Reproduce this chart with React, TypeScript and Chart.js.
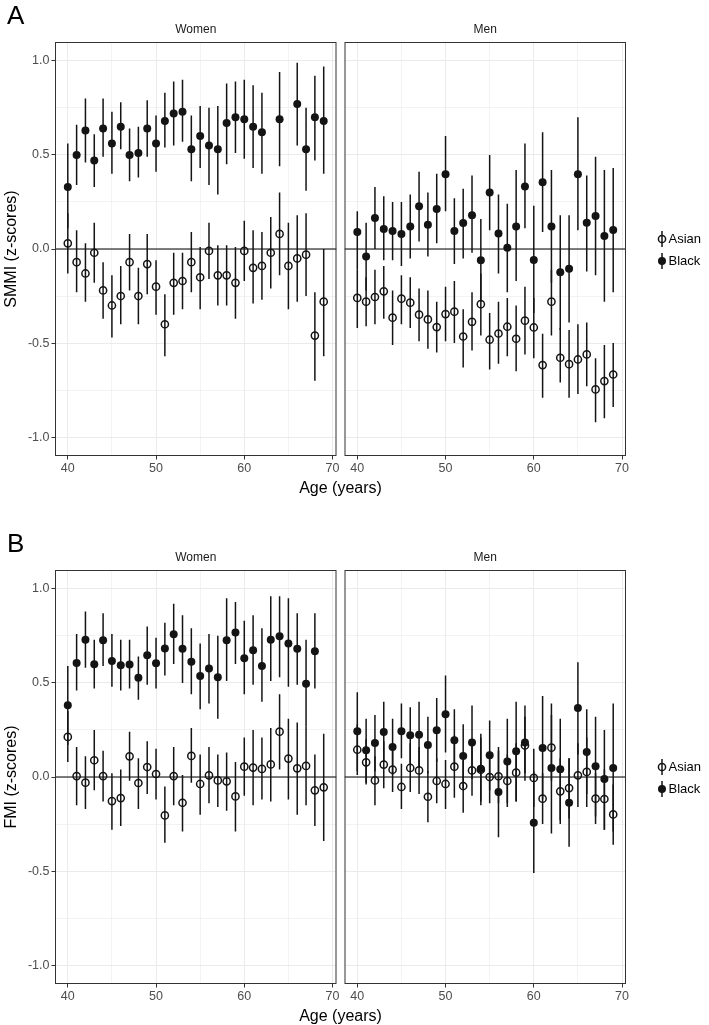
import React, { useEffect, useRef } from "react";
import { Chart, registerables } from "chart.js";

Chart.register(...registerables);

const FONT = "'Liberation Sans', Arial, Helvetica, sans-serif";
Chart.defaults.font.family = FONT;

// ---------------- data ----------------
const ages = [40, 41, 42, 43, 44, 45, 46, 47, 48, 49, 50, 51, 52, 53, 54, 55, 56, 57, 58, 59, 60, 61, 62, 63, 64, 65, 66, 67, 68, 69];
const xTicks = [40, 45, 50, 55, 60, 65, 70];
const xTickLabels = ["40", "", "50", "", "60", "", "70"];
const yTicks = [-1, -0.75, -0.5, -0.25, 0, 0.25, 0.5, 0.75, 1];
const yTickLabels = ["-1.0", "", "-0.5", "", "0.0", "", "0.5", "", "1.0"];
const groups = ["Asian", "Black"];
const facets = ["Women", "Men"];
const panelTags = ["A", "B"];
const yTitles = ["SMMI (z-scores)", "FMI (z-scores)"];
const xTitle = "Age (years)";

// Panel A: SMMI
const smmiWomenAsian = [0.03, -0.07, -0.13, -0.02, -0.22, -0.3, -0.25, -0.07, -0.25, -0.08, -0.2, -0.4, -0.18, -0.17, -0.07, -0.15, -0.01, -0.14, -0.14, -0.18, -0.01, -0.1, -0.09, -0.02, 0.08, -0.09, -0.05, -0.03, -0.46, -0.28];
const smmiWomenAsianLo = [-0.13, -0.23, -0.28, -0.18, -0.37, -0.47, -0.4, -0.22, -0.4, -0.24, -0.35, -0.57, -0.35, -0.32, -0.23, -0.32, -0.16, -0.3, -0.3, -0.37, -0.17, -0.29, -0.27, -0.21, -0.14, -0.32, -0.28, -0.25, -0.7, -0.57];
const smmiWomenAsianHi = [0.19, 0.1, 0.03, 0.14, -0.07, -0.14, -0.09, 0.08, -0.1, 0.08, -0.06, -0.24, -0.02, -0.02, 0.09, 0.01, 0.14, 0.02, 0.02, 0.01, 0.15, 0.1, 0.09, 0.17, 0.3, 0.14, 0.18, 0.19, -0.23, 0.0];
const smmiWomenBlack = [0.33, 0.5, 0.63, 0.47, 0.64, 0.56, 0.65, 0.5, 0.51, 0.64, 0.56, 0.68, 0.72, 0.73, 0.53, 0.6, 0.55, 0.53, 0.67, 0.7, 0.69, 0.65, 0.62, null, 0.69, null, 0.77, 0.53, 0.7, 0.68];
const smmiWomenBlackLo = [0.11, 0.34, 0.46, 0.33, 0.49, 0.4, 0.53, 0.36, 0.38, 0.49, 0.41, 0.54, 0.55, 0.57, 0.36, 0.43, 0.34, 0.29, 0.45, 0.51, 0.48, 0.43, 0.4, null, 0.44, null, 0.55, 0.31, 0.47, 0.4];
const smmiWomenBlackHi = [0.56, 0.66, 0.8, 0.61, 0.8, 0.73, 0.78, 0.64, 0.65, 0.79, 0.71, 0.83, 0.89, 0.9, 0.71, 0.76, 0.75, 0.76, 0.88, 0.89, 0.9, 0.87, 0.83, null, 0.94, null, 0.99, 0.75, 0.92, 0.97];
const smmiMenAsian = [-0.26, -0.28, -0.255, -0.225, -0.365, -0.264, -0.285, -0.349, -0.374, -0.415, -0.346, -0.333, -0.465, -0.387, -0.293, -0.482, -0.449, -0.413, -0.477, -0.381, -0.417, -0.617, -0.28, -0.578, -0.612, -0.587, -0.56, -0.746, -0.702, -0.667];
const smmiMenAsianLo = [-0.42, -0.41, -0.4, -0.37, -0.51, -0.4, -0.42, -0.49, -0.53, -0.55, -0.49, -0.5, -0.63, -0.54, -0.46, -0.64, -0.61, -0.57, -0.65, -0.56, -0.58, -0.79, -0.46, -0.71, -0.79, -0.77, -0.73, -0.92, -0.9, -0.84];
const smmiMenAsianHi = [-0.11, -0.15, -0.11, -0.09, -0.22, -0.14, -0.15, -0.21, -0.22, -0.28, -0.2, -0.17, -0.32, -0.23, -0.13, -0.34, -0.28, -0.26, -0.3, -0.2, -0.26, -0.45, -0.11, -0.42, -0.43, -0.4, -0.39, -0.58, -0.51, -0.5];
const smmiMenBlack = [0.09, -0.04, 0.165, 0.106, 0.096, 0.08, 0.119, 0.227, 0.129, 0.213, 0.397, 0.096, 0.138, 0.179, -0.06, 0.3, 0.082, 0.007, 0.119, 0.332, -0.059, 0.355, 0.119, -0.124, -0.105, 0.397, 0.14, 0.176, 0.069, 0.101];
const smmiMenBlackLo = [-0.11, -0.22, 0.0, -0.06, -0.06, -0.09, -0.05, 0.04, -0.04, 0.03, 0.2, -0.08, -0.05, -0.02, -0.28, 0.1, -0.13, -0.23, -0.17, 0.11, -0.34, 0.09, -0.18, -0.43, -0.39, 0.1, -0.12, -0.14, -0.28, -0.23];
const smmiMenBlackHi = [0.2, 0.14, 0.33, 0.28, 0.25, 0.25, 0.29, 0.41, 0.3, 0.4, 0.6, 0.27, 0.32, 0.39, 0.16, 0.5, 0.29, 0.24, 0.42, 0.56, 0.23, 0.62, 0.42, 0.18, 0.18, 0.7, 0.39, 0.49, 0.42, 0.43];

// Panel B: FMI
const fmiWomenAsian = [0.213, 0.005, -0.03, 0.089, 0.005, -0.128, -0.112, 0.11, -0.032, 0.053, 0.016, -0.204, 0.005, -0.137, 0.112, -0.037, 0.009, -0.018, -0.023, -0.103, 0.055, 0.05, 0.043, 0.067, 0.241, 0.098, 0.046, 0.059, -0.071, -0.055];
const fmiWomenAsianLo = [0.08, -0.15, -0.17, -0.07, -0.13, -0.28, -0.26, -0.02, -0.17, -0.09, -0.12, -0.35, -0.15, -0.29, -0.03, -0.2, -0.14, -0.16, -0.18, -0.29, -0.1, -0.15, -0.12, -0.13, 0.04, -0.12, -0.2, -0.15, -0.26, -0.34];
const fmiWomenAsianHi = [0.35, 0.16, 0.11, 0.25, 0.14, 0.02, 0.04, 0.24, 0.1, 0.19, 0.15, -0.05, 0.16, 0.01, 0.26, 0.12, 0.16, 0.12, 0.13, 0.08, 0.21, 0.25, 0.21, 0.26, 0.44, 0.31, 0.29, 0.27, 0.12, 0.23];
const fmiWomenBlack = [0.381, 0.606, 0.73, 0.599, 0.727, 0.617, 0.594, 0.598, 0.527, 0.647, 0.605, 0.683, 0.759, 0.681, 0.613, 0.537, 0.576, 0.53, 0.727, 0.768, 0.631, 0.674, 0.59, 0.73, 0.748, 0.709, 0.681, 0.496, 0.668, null];
const fmiWomenBlackLo = [0.17, 0.46, 0.58, 0.47, 0.59, 0.48, 0.46, 0.47, 0.41, 0.49, 0.47, 0.54, 0.6, 0.5, 0.44, 0.36, 0.39, 0.31, 0.51, 0.6, 0.44, 0.49, 0.4, 0.51, 0.53, 0.48, 0.49, 0.27, 0.47, null];
const fmiWomenBlackHi = [0.59, 0.76, 0.88, 0.73, 0.87, 0.76, 0.73, 0.73, 0.64, 0.8, 0.74, 0.82, 0.92, 0.86, 0.79, 0.71, 0.76, 0.75, 0.95, 0.93, 0.83, 0.86, 0.79, 0.96, 0.96, 0.95, 0.87, 0.73, 0.87, null];
const fmiMenAsian = [0.145, 0.078, -0.018, 0.066, 0.039, -0.053, 0.048, 0.035, -0.105, -0.021, -0.037, 0.055, -0.048, 0.035, 0.039, 0.0, 0.004, -0.021, 0.023, 0.168, -0.005, -0.115, 0.156, -0.076, -0.059, 0.009, 0.027, -0.115, -0.117, -0.199];
const fmiMenAsianLo = [0.01, -0.04, -0.15, -0.06, -0.08, -0.17, -0.08, -0.09, -0.24, -0.14, -0.17, -0.11, -0.19, -0.1, -0.13, -0.14, -0.14, -0.16, -0.13, 0.02, -0.16, -0.25, -0.02, -0.25, -0.22, -0.16, -0.16, -0.25, -0.28, -0.36];
const fmiMenAsianHi = [0.28, 0.2, 0.11, 0.19, 0.16, 0.07, 0.18, 0.16, 0.03, 0.1, 0.09, 0.22, 0.09, 0.17, 0.21, 0.14, 0.14, 0.12, 0.18, 0.32, 0.15, 0.02, 0.33, 0.1, 0.1, 0.18, 0.21, 0.02, 0.04, -0.04];
const fmiMenBlack = [0.243, 0.142, 0.181, 0.239, 0.16, 0.243, 0.222, 0.225, 0.17, 0.248, 0.333, 0.195, 0.112, 0.183, 0.044, 0.115, -0.08, 0.083, 0.137, 0.183, -0.243, 0.154, 0.048, 0.041, -0.137, 0.367, 0.133, 0.057, -0.011, 0.048];
const fmiMenBlackLo = [0.03, -0.03, 0.03, 0.08, 0.01, 0.1, 0.07, 0.05, 0.02, 0.08, 0.13, 0.03, -0.06, -0.01, -0.15, -0.07, -0.32, -0.14, -0.13, -0.02, -0.51, -0.12, -0.3, -0.23, -0.37, 0.12, -0.09, -0.21, -0.28, -0.29];
const fmiMenBlackHi = [0.45, 0.31, 0.33, 0.4, 0.31, 0.39, 0.37, 0.4, 0.32, 0.42, 0.54, 0.36, 0.28, 0.38, 0.23, 0.3, 0.16, 0.31, 0.4, 0.38, 0.03, 0.43, 0.39, 0.31, 0.1, 0.61, 0.36, 0.32, 0.25, 0.39];

// ---------------- chart ----------------
type Arr = (number | null)[];
interface FacetProps {
  panelTop: number;
  isLeft: boolean;
  facet: string;
  yTitle: string;
  showLegend: boolean;
  asian: [Arr, Arr, Arr];
  black: [Arr, Arr, Arr];
}

const INK = "#141414";
const OPEN_R = 3.6;
const OPEN_W = 1.5;
const FILL_R = 4;
const BAR_W = 1.5;

const decoPlugin = (facet: string, showLegend: boolean) => ({
  id: "facetDeco",
  beforeDatasetsDraw(chart: any) {
    const { ctx, chartArea: a, scales } = chart;
    const xs = scales.x;
    const ys = scales.y;
    ctx.save();
    ctx.beginPath();
    ctx.rect(a.left, a.top, a.right - a.left, a.bottom - a.top);
    ctx.clip();
    const y0 = ys.getPixelForValue(0);
    ctx.strokeStyle = "#000";
    ctx.lineWidth = 1.2;
    ctx.beginPath();
    ctx.moveTo(a.left, y0);
    ctx.lineTo(a.right, y0);
    ctx.stroke();
    ctx.strokeStyle = INK;
    ctx.lineWidth = BAR_W;
    chart.data.datasets.forEach((ds: any) => {
      ds.errAges.forEach((age: number, i: number) => {
        const lo = ds.errLo[i];
        const hi = ds.errHi[i];
        if (lo === null || hi === null) return;
        const px = xs.getPixelForValue(age);
        ctx.beginPath();
        ctx.moveTo(px, ys.getPixelForValue(lo));
        ctx.lineTo(px, ys.getPixelForValue(hi));
        ctx.stroke();
      });
    });
    ctx.restore();
  },
  afterDatasetsDraw(chart: any) {
    const { ctx, chartArea: a } = chart;
    ctx.save();
    ctx.strokeStyle = "#333333";
    ctx.lineWidth = 1;
    ctx.strokeRect(a.left + 0.5, a.top + 0.5, a.right - a.left - 1, a.bottom - a.top - 1);
    ctx.fillStyle = "#1a1a1a";
    ctx.font = `12px ${FONT}`;
    ctx.textAlign = "center";
    ctx.textBaseline = "middle";
    ctx.fillText(facet, (a.left + a.right) / 2, a.top - 12);
    if (showLegend) {
      const gx = a.right + 36;
      groups.forEach((g, i) => {
        const gy = 239 + i * 22;
        ctx.strokeStyle = INK;
        ctx.lineWidth = BAR_W;
        ctx.beginPath();
        ctx.moveTo(gx, gy - 8);
        ctx.lineTo(gx, gy + 8);
        ctx.stroke();
        ctx.beginPath();
        if (i === 0) {
          ctx.arc(gx, gy, OPEN_R, 0, Math.PI * 2);
          ctx.lineWidth = OPEN_W;
          ctx.stroke();
        } else {
          ctx.arc(gx, gy, FILL_R, 0, Math.PI * 2);
          ctx.fillStyle = INK;
          ctx.fill();
        }
        ctx.fillStyle = "#000";
        ctx.textAlign = "left";
        ctx.textBaseline = "middle";
        ctx.font = `13px ${FONT}`;
        ctx.fillText(g, gx + 6.5, gy);
      });
    }
    ctx.restore();
  },
});

function FacetChart(p: FacetProps) {
  const ref = useRef<HTMLCanvasElement>(null);
  const w = p.isLeft ? 360 : 409;
  const h = 500;
  const left = p.isLeft ? 0 : 300;
  useEffect(() => {
    if (!ref.current) return;
    const mk = (vals: Arr) =>
      ages.map((a, i) => ({ x: a, y: vals[i] })).filter((d) => d.y !== null);
    const chart = new Chart(ref.current, {
      type: "scatter",
      data: {
        datasets: [
          {
            label: groups[0],
            data: mk(p.asian[0]) as any,
            pointRadius: OPEN_R,
            pointBorderWidth: OPEN_W,
            pointBackgroundColor: "rgba(0,0,0,0)",
            pointBorderColor: INK,
            errAges: ages,
            errLo: p.asian[1],
            errHi: p.asian[2],
          } as any,
          {
            label: groups[1],
            data: mk(p.black[0]) as any,
            pointRadius: FILL_R,
            pointBorderWidth: 0,
            pointBackgroundColor: INK,
            pointBorderColor: INK,
            errAges: ages,
            errLo: p.black[1],
            errHi: p.black[2],
          } as any,
        ],
      },
      options: {
        animation: false,
        responsive: false,
        events: [],
        layout: {
          padding: {
            left: p.isLeft ? 0 : 44.5,
            right: p.isLeft ? 23.5 : 83,
            top: 42,
            bottom: 14,
          },
        },
        plugins: {
          legend: { display: false },
          tooltip: { enabled: false },
        },
        scales: {
          x: {
            type: "linear",
            min: 38.55,
            max: 70.45,
            afterBuildTicks: (s: any) => {
              s.ticks = xTicks.map((v) => ({ value: v }));
            },
            afterFit: (s: any) => {
              s.height = 30;
            },
            ticks: {
              autoSkip: false,
              maxRotation: 0,
              padding: 2,
              color: "#4d4d4d",
              font: { size: 12.5, family: FONT },
              callback: (v: any) => {
                const k = xTicks.indexOf(Number(v));
                return k >= 0 ? xTickLabels[k] : "";
              },
            },
            grid: {
              color: "#ebebeb",
              lineWidth: (c: any) => (c.tick && c.tick.value % 10 === 0 ? 1 : 0.6),
              tickColor: (c: any) => (c.tick && c.tick.value % 10 === 0 ? "#333333" : "rgba(0,0,0,0)"),
              tickLength: 3.5,
              tickWidth: 1,
              drawTicks: true,
            },
            border: { display: false },
          },
          y: {
            type: "linear",
            min: -1.1,
            max: 1.1,
            afterBuildTicks: (s: any) => {
              s.ticks = yTicks.map((v) => ({ value: v }));
            },
            afterFit: (s: any) => {
              s.width = p.isLeft ? 55 : 0;
            },
            ticks: {
              display: p.isLeft,
              autoSkip: false,
              padding: 2,
              color: "#4d4d4d",
              font: { size: 12.5, family: FONT },
              callback: (v: any) => {
                const k = yTicks.indexOf(Number(v));
                return k >= 0 ? yTickLabels[k] : "";
              },
            },
            grid: {
              color: "#ebebeb",
              lineWidth: (c: any) => (c.tick && Math.abs((c.tick.value * 2) % 1) < 1e-9 ? 1 : 0.6),
              tickColor: (c: any) =>
                c.tick && Math.abs((c.tick.value * 2) % 1) < 1e-9 ? "#333333" : "rgba(0,0,0,0)",
              tickLength: 3.5,
              tickWidth: 1,
              drawTicks: p.isLeft,
            },
            border: { display: false },
            title: {
              display: p.isLeft,
              text: p.yTitle,
              color: "#000",
              font: { size: 16, family: FONT },
              padding: { top: 2, bottom: 0 },
            },
          },
        },
      } as any,
      plugins: [decoPlugin(p.facet, p.showLegend)],
    });
    return () => chart.destroy();
  }, []);
  return (
    <canvas
      ref={ref}
      width={w}
      height={h}
      style={{ position: "absolute", left, top: p.panelTop, width: w, height: h }}
    />
  );
}

const textStyle: React.CSSProperties = {
  position: "absolute",
  fontFamily: FONT,
  color: "#000",
  whiteSpace: "nowrap",
  lineHeight: 1,
};

export default function App() {
  const panels = [
    {
      top: 0,
      women: { asian: [smmiWomenAsian, smmiWomenAsianLo, smmiWomenAsianHi], black: [smmiWomenBlack, smmiWomenBlackLo, smmiWomenBlackHi] },
      men: { asian: [smmiMenAsian, smmiMenAsianLo, smmiMenAsianHi], black: [smmiMenBlack, smmiMenBlackLo, smmiMenBlackHi] },
    },
    {
      top: 528,
      women: { asian: [fmiWomenAsian, fmiWomenAsianLo, fmiWomenAsianHi], black: [fmiWomenBlack, fmiWomenBlackLo, fmiWomenBlackHi] },
      men: { asian: [fmiMenAsian, fmiMenAsianLo, fmiMenAsianHi], black: [fmiMenBlack, fmiMenBlackLo, fmiMenBlackHi] },
    },
  ];
  return (
    <div style={{ position: "absolute", left: 0, top: 0, width: 709, height: 1025, background: "#fff", overflow: "hidden" }}>
      {panels.map((pn, i) => (
        <React.Fragment key={i}>
          <FacetChart
            panelTop={pn.top}
            isLeft={true}
            facet={facets[0]}
            yTitle={yTitles[i]}
            showLegend={false}
            asian={pn.women.asian as any}
            black={pn.women.black as any}
          />
          <FacetChart
            panelTop={pn.top}
            isLeft={false}
            facet={facets[1]}
            yTitle={yTitles[i]}
            showLegend={true}
            asian={pn.men.asian as any}
            black={pn.men.black as any}
          />
          <div style={{ ...textStyle, left: 7, top: pn.top + 2, fontSize: 26 }}>{panelTags[i]}</div>
          <div
            style={{
              ...textStyle,
              left: 340.5,
              top: pn.top + 488,
              fontSize: 16,
              transform: "translate(-50%, -50%)",
            }}
          >
            {xTitle}
          </div>
        </React.Fragment>
      ))}
    </div>
  );
}
